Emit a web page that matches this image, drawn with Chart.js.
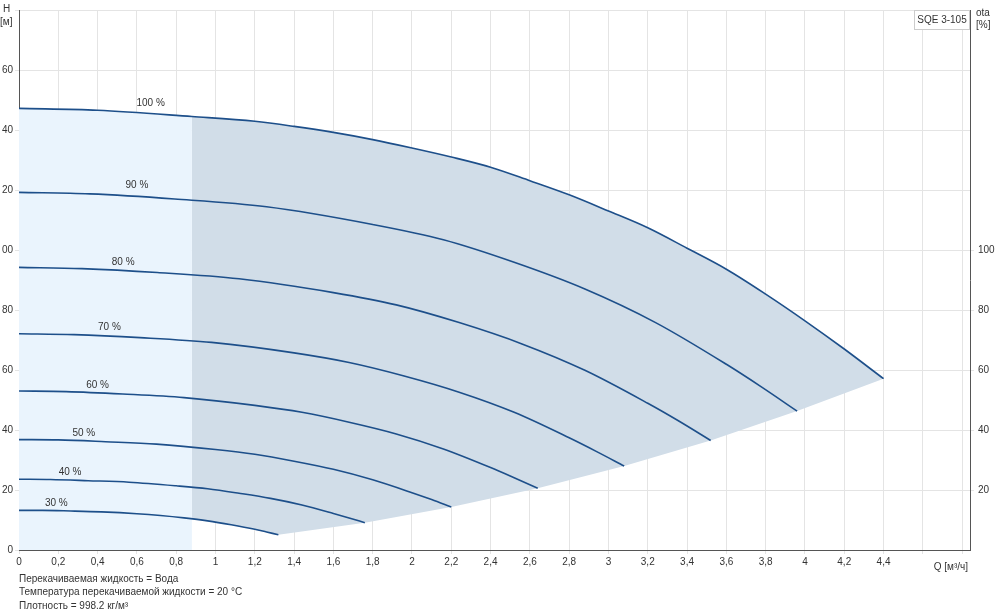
<!DOCTYPE html>
<html>
<head>
<meta charset="utf-8">
<script src="https://cdn.jsdelivr.net/npm/chart.js@4/dist/chart.umd.min.js"></script>
<style>
  body { margin: 0; background: #fff; }
  #wrap { position: relative; width: 1000px; height: 613px; }
</style>
</head>
<body>
<div id="wrap"><canvas id="c" width="1000" height="613"></canvas></div>
<script>
// Q [m3/h] and H [m], one pair of arrays per speed curve
const q100 = [0, 0.4, 0.88, 1.2, 1.4, 1.6, 1.8, 2.0, 2.2, 2.4, 2.6, 2.8, 3.0, 3.2, 3.4, 3.6, 3.8, 4.0, 4.2, 4.4]
const h100 = [147.2, 146.6, 144.5, 142.9, 141.2, 139.2, 136.8, 134.0, 131.0, 127.6, 123.1, 118.4, 113.0, 107.4, 100.6, 93.6, 85.3, 76.4, 67.0, 57.1]
const q90 = [0, 0.36, 0.792, 1.26, 1.8, 2.16, 2.52, 2.88, 3.24, 3.6, 3.78, 3.96]
const h90 = [119.2, 118.7, 117.0, 114.4, 108.5, 103.4, 95.9, 87.0, 75.8, 61.9, 54.3, 46.3]
const q80 = [0, 0.32, 0.704, 1.12, 1.6, 1.92, 2.24, 2.56, 2.88, 3.2, 3.36, 3.52]
const h80 = [94.2, 93.8, 92.5, 90.4, 85.8, 81.7, 75.8, 68.7, 59.9, 48.9, 42.9, 36.5]
const q70 = [0, 0.28, 0.616, 0.98, 1.4, 1.68, 1.96, 2.24, 2.52, 2.8, 2.94, 3.08]
const h70 = [72.1, 71.8, 70.8, 69.2, 65.7, 62.5, 58.0, 52.6, 45.9, 37.4, 32.8, 28.0]
const q60 = [0, 0.24, 0.528, 0.84, 1.2, 1.44, 1.68, 1.92, 2.16, 2.4, 2.52, 2.64]
const h60 = [53.0, 52.8, 52.0, 50.8, 48.2, 45.9, 42.6, 38.7, 33.7, 27.5, 24.1, 20.6]
const q50 = [0, 0.2, 0.44, 0.7, 1.0, 1.2, 1.4, 1.6, 1.8, 2.0, 2.1, 2.2]
const h50 = [36.8, 36.7, 36.1, 35.3, 33.5, 31.9, 29.6, 26.9, 23.4, 19.1, 16.8, 14.3]
const q40 = [0, 0.16, 0.352, 0.56, 0.8, 0.96, 1.12, 1.28, 1.44, 1.6, 1.68, 1.76]
const h40 = [23.6, 23.5, 23.1, 22.6, 21.4, 20.4, 18.9, 17.2, 15.0, 12.2, 10.7, 9.1]
const q30 = [0, 0.12, 0.264, 0.42, 0.6, 0.72, 0.84, 0.96, 1.08, 1.2, 1.26, 1.32]
const h30 = [13.2, 13.2, 13.0, 12.7, 12.1, 11.5, 10.7, 9.7, 8.4, 6.9, 6.0, 5.1]

// lower edge of the operating area (30 % curve, then the curve end points)
const qLow = [0.88, 0.96, 1.08, 1.2, 1.26, 1.32, 1.76, 2.2, 2.64, 3.08, 3.52, 3.96, 4.4]
const hLow = [10.35, 9.7, 8.4, 6.9, 6.0, 5.1, 9.1, 14.3, 20.6, 28.0, 36.5, 46.3, 57.1]

const curveLabels = ['100 %', '90 %', '80 %', '70 %', '60 %', '50 %', '40 %', '30 %']
const labelQ = [0.67, 0.6, 0.53, 0.46, 0.4, 0.33, 0.26, 0.19]
const labelH = [149, 121.6, 96, 74.4, 55, 39, 26, 15.6]

const xTicks = [0, 0.2, 0.4, 0.6, 0.8, 1.0, 1.2, 1.4, 1.6, 1.8, 2.0, 2.2, 2.4, 2.6, 2.8, 3.0, 3.2, 3.4, 3.6, 3.8, 4.0, 4.2, 4.4, 4.6, 4.8]
const hTicks = [0, 20, 40, 60, 80, 100, 120, 140, 160, 180]
const etaTicks = [20, 40, 60, 80, 100]

const footer = [
    'Перекачиваемая жидкость = Вода',
    'Температура перекачиваемой жидкости = 20 °C',
    'Плотность = 998.2 кг/м³'
]

const pts = (qs, hs) => qs.map((q, i) => ({ x: q, y: hs[i] }))
const LINE = '#1d4f8a'

const curves = [[q100, h100], [q90, h90], [q80, h80], [q70, h70], [q60, h60], [q50, h50], [q40, h40], [q30, h30]]

const datasets = [
    // light area left of 0.88
    {
        data: pts(q100.slice(0, 3), h100.slice(0, 3)),
        borderWidth: 0, pointRadius: 0, fill: 'origin',
        backgroundColor: '#eaf4fd', order: 3
    },
    // operating area
    {
        data: pts(q100.slice(2), h100.slice(2)),
        borderWidth: 0, pointRadius: 0, fill: '+1', cubicInterpolationMode: 'monotone',
        backgroundColor: '#d1dde8', order: 2
    },
    {
        data: pts(qLow, hLow),
        borderWidth: 0, pointRadius: 0, fill: false, order: 2
    }
]
curves.forEach(c => {
    datasets.push({
        data: pts(c[0], c[1]),
        borderColor: LINE, borderWidth: 1.6, pointRadius: 0, fill: false,
        cubicInterpolationMode: 'monotone', order: 1
    })
})

const fmt = v => String(Math.round(v * 10) / 10).replace('.', ',')

const textPlugin = {
    id: 'texts',
    afterDraw(chart) {
        const ctx = chart.ctx
        const xs = chart.scales.x, ys = chart.scales.y
        const area = chart.chartArea
        ctx.save()
        ctx.fillStyle = '#333'
        ctx.font = '10px "Liberation Sans", Arial, sans-serif'
        ctx.textAlign = 'center'
        ctx.textBaseline = 'middle'
        curveLabels.forEach((t, i) => {
            ctx.fillText(t, xs.getPixelForValue(labelQ[i]), ys.getPixelForValue(labelH[i]))
        })
        // axis titles
        ctx.textAlign = 'left'
        ctx.fillText('H', 3, 9)
        ctx.fillText('[м]', 0, 22)
        ctx.fillText('ota', 976, 13)
        ctx.fillText('[%]', 976, 25)
        ctx.textAlign = 'right'
        ctx.fillText('Q [м³/ч]', area.right - 2, 567)
        ctx.textAlign = 'left'
        footer.forEach((t, i) => ctx.fillText(t, 19, 579 + i * 13.5))
        // model box
        ctx.fillStyle = '#fff'
        ctx.strokeStyle = '#ccc'
        ctx.fillRect(914, area.top, area.right - 914, 19)
        ctx.strokeRect(914.5, area.top + 0.5, area.right - 915, 19)
        ctx.fillStyle = '#333'
        ctx.textAlign = 'center'
        ctx.fillText('SQE 3-105', (914 + area.right) / 2, area.top + 10)
        ctx.restore()
    }
}

new Chart(document.getElementById('c'), {
    type: 'line',
    data: { datasets: datasets },
    plugins: [textPlugin],
    options: {
        responsive: false,
        animation: false,
        layout: { padding: { top: 6 } },
        plugins: { legend: { display: false }, tooltip: { enabled: false } },
        scales: {
            x: {
                type: 'linear', min: 0, max: 4.84,
                afterBuildTicks: s => { s.ticks = xTicks.map(v => ({ value: v })) },
                afterFit: s => { s.height = 63 },
                ticks: {
                    autoSkip: false, maxRotation: 0, color: '#333', padding: 2,
                    font: { size: 10, family: '"Liberation Sans", Arial' },
                    callback: v => v > 4.5 ? '' : fmt(v)
                },
                grid: { color: '#e4e4e4', tickLength: 4 },
                border: { color: '#555' }
            },
            y: {
                type: 'linear', min: 0, max: 180,
                afterBuildTicks: s => { s.ticks = hTicks.map(v => ({ value: v })) },
                afterFit: s => { s.width = 19 },
                ticks: {
                    color: '#333', padding: 2,
                    font: { size: 10, family: '"Liberation Sans", Arial' },
                    callback: v => v >= 180 ? '' : String(v).slice(-2)
                },
                grid: { color: '#e4e4e4', tickLength: 4 },
                border: { color: '#555' }
            },
            y2: {
                type: 'linear', position: 'right', min: 0, max: 180,
                afterBuildTicks: s => { s.ticks = etaTicks.map(v => ({ value: v })) },
                afterFit: s => { s.width = 30 },
                ticks: {
                    color: '#333', padding: 4,
                    font: { size: 10, family: '"Liberation Sans", Arial' }
                },
                grid: { drawOnChartArea: false, tickLength: 4 },
                border: { color: '#555' }
            }
        }
    }
})
</script>
</body>
</html>
